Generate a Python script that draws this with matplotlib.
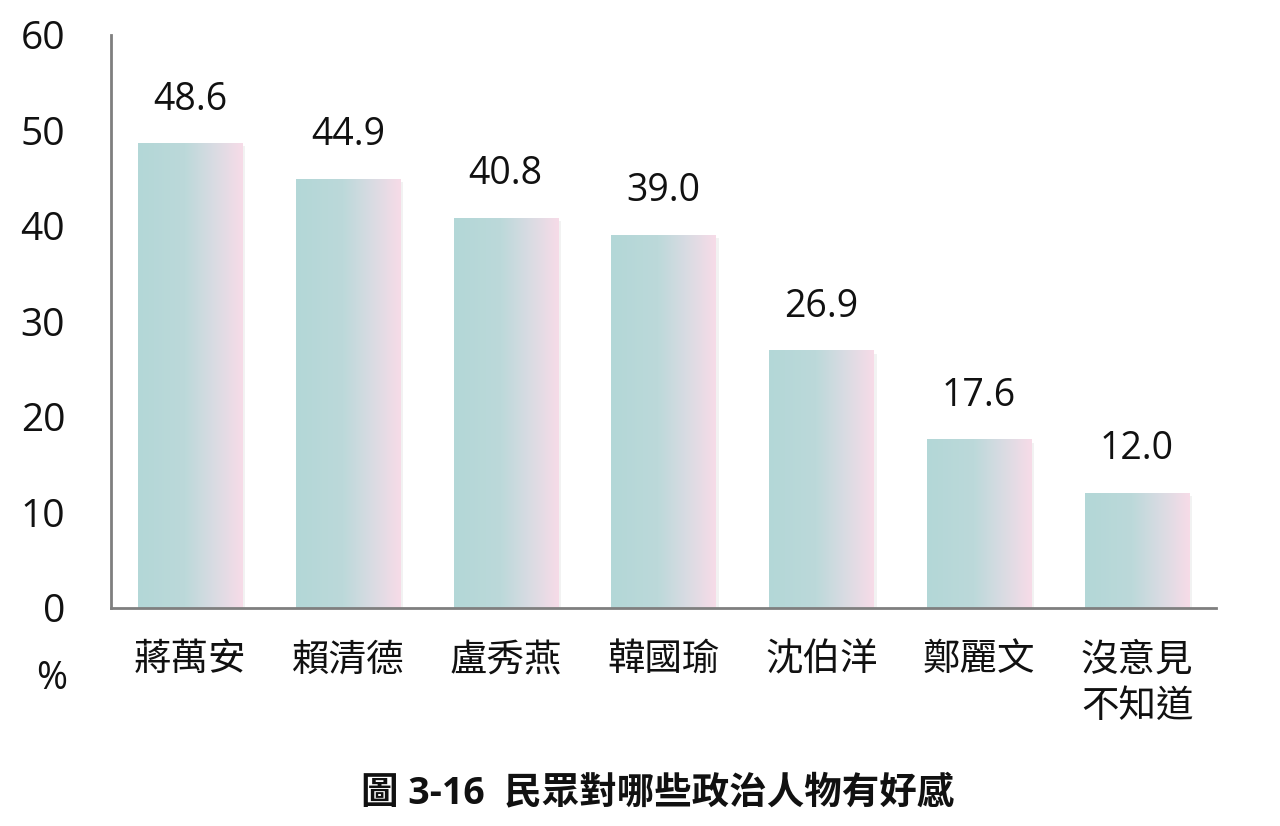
import numpy as np
import matplotlib
matplotlib.use("Agg")
import matplotlib.pyplot as plt
from matplotlib.colors import LinearSegmentedColormap

plt.rcParams['font.family'] = ['Open Sans', 'Noto Sans CJK TC', 'DejaVu Sans']

# data
names = ['蔣萬安', '賴清德', '盧秀燕', '韓國瑜', '沈伯洋', '鄭麗文', '沒意見\n不知道']
values = [48.6, 44.9, 40.8, 39.0, 26.9, 17.6, 12.0]
yticks = [0, 10, 20, 30, 40, 50, 60]

fig = plt.figure(figsize=(12.8, 8.26), dpi=100, facecolor='white')
ax = fig.add_axes([0.0867, 0.264, 0.8633, 0.694])

x = np.arange(len(names))
bars = ax.bar(x, values, width=0.66, color='none', edgecolor='none', zorder=2)

# horizontal teal -> pink gradient inside each bar
cmap = LinearSegmentedColormap.from_list(
    'tp', [(0.0, '#b3d7d7'), (0.45, '#bcd9da'), (0.7, '#d6dbe2'), (1.0, '#f7dce8')])
grad = np.linspace(0, 1, 256).reshape(1, -1)
for b in bars:
    x0, w, h = b.get_x(), b.get_width(), b.get_height()
    # soft shadow on the right side
    ax.bar(x0 + w / 2 + 0.02, h, width=w, bottom=-0.3, color='#000000', alpha=0.05,
           edgecolor='none', zorder=1)
    ax.imshow(grad, cmap=cmap, aspect='auto', extent=(x0, x0 + w, 0, h), zorder=2)

for xi, v in zip(x, values):
    ax.text(xi, v + 4.6, f'{v:.1f}', ha='center', va='center', fontsize=27, color='#111111')

ax.set_xlim(-0.5, len(names) - 0.5)
ax.set_ylim(0, 60)
ax.set_yticks(yticks)
ax.set_yticklabels([str(t) for t in yticks], fontsize=28, color='#111111')
ax.set_xticks(x)
ax.set_xticklabels(names, fontsize=27, color='#111111', linespacing=1.3, va='top')
ax.tick_params(axis='y', length=0, pad=33)
ax.tick_params(axis='x', length=0, pad=24)

for s in ['top', 'right']:
    ax.spines[s].set_visible(False)
for s in ['left', 'bottom']:
    ax.spines[s].set_color('#7f7f7f')
    ax.spines[s].set_linewidth(2)

fig.text(0.04, 0.178, '%', fontsize=27, ha='center', va='center', color='#111111')
fig.text(0.514, 0.04, '圖 3-16  民眾對哪些政治人物有好感', fontsize=27, fontweight='bold',
         ha='center', va='center', color='#111111')

fig.savefig('out.png', dpi=100, facecolor='white')
